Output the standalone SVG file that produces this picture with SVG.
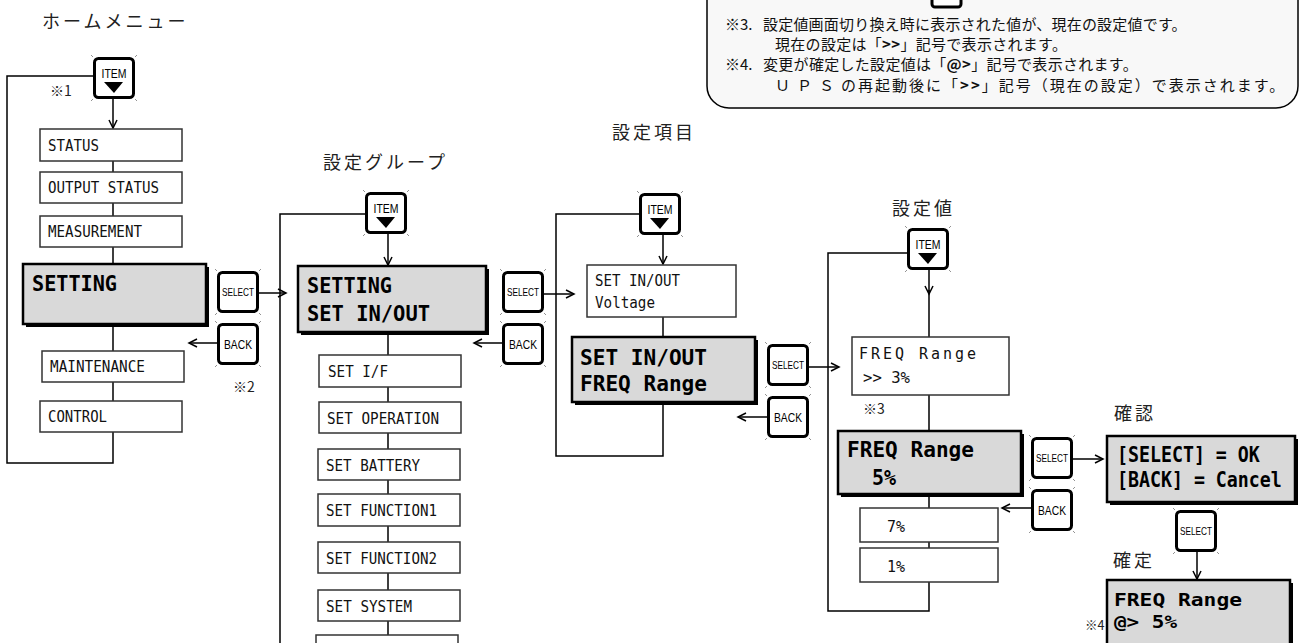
<svg xmlns="http://www.w3.org/2000/svg" xmlns:xlink="http://www.w3.org/1999/xlink" width="1301" height="643" viewBox="0 0 1301 643">
<style>
.box{fill:#fff;stroke:#333;stroke-width:1.5}
.gbox{fill:#d9d9d9;stroke:#000;stroke-width:2.5}
.shd{fill:#000}
.t{font-family:"DejaVu Sans Mono",monospace;font-size:16.5px;fill:#111}
.tb{font-family:"DejaVu Sans Mono",monospace;font-size:22px;font-weight:bold;fill:#000}
.jp{font-family:"Noto Sans CJK JP",sans-serif;font-size:18px;letter-spacing:3px;fill:#222}
.note{font-family:"Noto Sans CJK JP",sans-serif;font-size:15px;fill:#111}
.mk{font-family:"Noto Sans CJK JP",sans-serif;font-size:14px;fill:#222}
.conn{fill:none;stroke:#000;stroke-width:1.5}
.bt{font-family:"Liberation Sans",sans-serif;font-size:11px;text-anchor:middle;fill:#000}
</style>
<defs>
<marker id="arr" markerWidth="12" markerHeight="12" refX="9" refY="5" orient="auto" markerUnits="userSpaceOnUse"><path d="M1,1 L9,5 L1,9" fill="none" stroke="#000" stroke-width="1.5"/></marker>
<g id="btn"><rect x="1.5" y="1.5" width="39" height="39" rx="4" fill="#fff" stroke="#000" stroke-width="3"/><path d="M0,0 l-2,-2 M42,0 l2,-2 M0,42 l-2,2 M42,42 l2,2" stroke="#777" stroke-width="0.8"/></g>
<g id="itembtn"><use href="#btn"/><text class="bt" x="21" y="21" style="font-size:12px" textLength="25" lengthAdjust="spacingAndGlyphs">ITEM</text><polygon points="11,25 30,25 21,36" fill="#000"/></g>
<g id="selbtn"><use href="#btn"/><text class="bt" x="21" y="25" textLength="32" lengthAdjust="spacingAndGlyphs">SELECT</text></g>
<g id="backbtn"><use href="#btn"/><text class="bt" x="21" y="26" style="font-size:12px" textLength="28" lengthAdjust="spacingAndGlyphs">BACK</text></g>
</defs>
<rect width="1301" height="643" fill="#fff"/>

<g id="note">
<rect x="707" y="-40" width="591" height="148" rx="22" fill="#f8f8f8" stroke="#000" stroke-width="1.5"/>
<rect x="932" y="-30" width="29" height="37" rx="3" fill="#fff" stroke="#000" stroke-width="3"/>
<text class="note" x="725" y="30">※3.</text>
<text class="note" x="763" y="30" letter-spacing="0.2">設定値画面切り換え時に表示された値が、現在の設定値です。</text>
<text class="note" x="775" y="50" letter-spacing="0.3">現在の設定は「<tspan font-weight="bold">&gt;&gt;</tspan>」記号で表示されます。</text>
<text class="note" x="725" y="70">※4.</text>
<text class="note" x="763" y="70" letter-spacing="0.3">変更が確定した設定値は「<tspan font-weight="bold">@&gt;</tspan>」記号で表示されます。</text>
<text class="note" x="775" y="91" letter-spacing="2"><tspan letter-spacing="7">ＵＰＳ</tspan>の再起動後に「<tspan font-weight="bold">&gt;&gt;</tspan>」記号（現在の設定）で表示されます。</text>
</g>

<g id="labels">
<text class="jp" x="42" y="28">ホームメニュー</text>
<text class="jp" x="323" y="169">設定グループ</text>
<text class="jp" x="612" y="139">設定項目</text>
<text class="jp" x="892" y="215">設定値</text>
<text class="jp" x="1114" y="420">確認</text>
<text class="jp" x="1113" y="567">確定</text>
<text class="mk" x="50" y="96">※1</text>
<text class="mk" x="233" y="392">※2</text>
<text class="mk" x="863" y="414">※3</text>
<text class="mk" x="1085" y="630" style="font-size:12.5px">※4</text>
</g>

<g id="connectors">
<polyline class="conn" points="93,76 7,76 7,463 113,463 113,432"/>
<line class="conn" x1="113" y1="99" x2="113" y2="128" marker-end="url(#arr)"/>
<path class="conn" d="M113,161 V172 M113,203 V216 M113,247 V264 M113,327 V351 M113,382 V401"/>
<line class="conn" x1="259" y1="293" x2="286" y2="293" marker-end="url(#arr)"/>
<line class="conn" x1="217" y1="343" x2="189" y2="343" marker-end="url(#arr)"/>
<polyline class="conn" points="365,214 280,214 280,650"/>
<line class="conn" x1="388" y1="234" x2="388" y2="265" marker-end="url(#arr)"/>
<path class="conn" d="M388,335 V355 M388,387 V402 M388,433 V449 M388,480 V494 M388,526 V542 M388,573 V590 M388,621 V635"/>
<line class="conn" x1="543" y1="294" x2="574" y2="294" marker-end="url(#arr)"/>
<line class="conn" x1="502" y1="343" x2="474" y2="343" marker-end="url(#arr)"/>
<polyline class="conn" points="639,214 556,214 556,456 663,456 663,405"/>
<line class="conn" x1="663" y1="235" x2="663" y2="264" marker-end="url(#arr)"/>
<line class="conn" x1="663" y1="317" x2="663" y2="337"/>
<line class="conn" x1="808" y1="367" x2="839" y2="367" marker-end="url(#arr)"/>
<line class="conn" x1="767" y1="417" x2="738" y2="417" marker-end="url(#arr)"/>
<polyline class="conn" points="907,253 828,253 828,611 929,611 929,582"/>
<line class="conn" x1="929" y1="270" x2="929" y2="294" marker-end="url(#arr)"/>
<path class="conn" d="M929,290 V337 M929,395 V431 M929,497 V508 M929,542 V548"/>
<line class="conn" x1="1073" y1="459" x2="1103" y2="459" marker-end="url(#arr)"/>
<line class="conn" x1="1031" y1="508" x2="1002" y2="508" marker-end="url(#arr)"/>
<line class="conn" x1="1197" y1="552" x2="1197" y2="579" marker-end="url(#arr)"/>
</g>

<g id="item1"><use href="#itembtn" x="93" y="57"/></g>
<g id="status"><rect class="box" x="40" y="129" width="142" height="32"/><text class="t" x="48" y="151" textLength="51" lengthAdjust="spacingAndGlyphs">STATUS</text></g>
<g id="output-status"><rect class="box" x="40" y="172" width="142" height="31"/><text class="t" x="48" y="193" textLength="111" lengthAdjust="spacingAndGlyphs">OUTPUT STATUS</text></g>
<g id="measurement"><rect class="box" x="40" y="216" width="142" height="31"/><text class="t" x="48" y="237" textLength="94" lengthAdjust="spacingAndGlyphs">MEASUREMENT</text></g>
<g id="setting"><rect class="shd" x="26" y="267" width="183" height="60"/><rect class="gbox" x="23" y="264" width="183" height="60"/><text class="tb" x="32" y="291" textLength="85" lengthAdjust="spacingAndGlyphs">SETTING</text></g>
<g id="select1"><use href="#selbtn" x="217" y="271"/></g>
<g id="back1"><use href="#backbtn" x="217" y="323"/></g>
<g id="maintenance"><rect class="box" x="42" y="351" width="142" height="31"/><text class="t" x="50" y="372" textLength="95" lengthAdjust="spacingAndGlyphs">MAINTENANCE</text></g>
<g id="control"><rect class="box" x="40" y="401" width="142" height="31"/><text class="t" x="48" y="422" textLength="59" lengthAdjust="spacingAndGlyphs">CONTROL</text></g>

<g id="item2"><use href="#itembtn" x="365" y="192"/></g>
<g id="setting-setinout"><rect class="shd" x="301" y="269" width="188" height="66"/><rect class="gbox" x="298" y="266" width="188" height="66"/><text class="tb" x="307" y="293" textLength="85" lengthAdjust="spacingAndGlyphs">SETTING</text><text class="tb" x="307" y="321" textLength="123" lengthAdjust="spacingAndGlyphs">SET IN/OUT</text></g>
<g id="select2"><use href="#selbtn" x="502" y="271"/></g>
<g id="back2"><use href="#backbtn" x="502" y="323"/></g>
<g id="set-if"><rect class="box" x="319" y="355" width="142" height="32"/><text class="t" x="328" y="377" textLength="60" lengthAdjust="spacingAndGlyphs">SET I/F</text></g>
<g id="set-operation"><rect class="box" x="319" y="402" width="142" height="31"/><text class="t" x="327" y="424" textLength="112" lengthAdjust="spacingAndGlyphs">SET OPERATION</text></g>
<g id="set-battery"><rect class="box" x="318" y="449" width="142" height="31"/><text class="t" x="326" y="471" textLength="94" lengthAdjust="spacingAndGlyphs">SET BATTERY</text></g>
<g id="set-function1"><rect class="box" x="318" y="494" width="142" height="32"/><text class="t" x="326" y="516" textLength="111" lengthAdjust="spacingAndGlyphs">SET FUNCTION1</text></g>
<g id="set-function2"><rect class="box" x="318" y="542" width="142" height="31"/><text class="t" x="326" y="564" textLength="111" lengthAdjust="spacingAndGlyphs">SET FUNCTION2</text></g>
<g id="set-system"><rect class="box" x="318" y="590" width="142" height="31"/><text class="t" x="326" y="612" textLength="86" lengthAdjust="spacingAndGlyphs">SET SYSTEM</text></g>
<g id="next-item"><rect class="box" x="316" y="635" width="142" height="40"/></g>

<g id="item3"><use href="#itembtn" x="639" y="193"/></g>
<g id="setinout-voltage"><rect class="box" x="587" y="265" width="149" height="52"/><text class="t" x="595" y="286" textLength="85" lengthAdjust="spacingAndGlyphs">SET IN/OUT</text><text class="t" x="595" y="308" textLength="60" lengthAdjust="spacingAndGlyphs">Voltage</text></g>
<g id="setinout-freq"><rect class="shd" x="575" y="340" width="183" height="65"/><rect class="gbox" x="572" y="337" width="183" height="65"/><text class="tb" x="580" y="365" textLength="127" lengthAdjust="spacingAndGlyphs">SET IN/OUT</text><text class="tb" x="580" y="391" textLength="127" lengthAdjust="spacingAndGlyphs">FREQ Range</text></g>
<g id="select3"><use href="#selbtn" x="767" y="344"/></g>
<g id="back3"><use href="#backbtn" x="767" y="396"/></g>

<g id="item4"><use href="#itembtn" x="907" y="228"/></g>
<g id="freq-3"><rect class="box" x="852" y="337" width="157" height="58"/><text class="t" x="859" y="359" style="font-size:15px" textLength="117" lengthAdjust="spacing">FREQ Range</text><text class="t" x="863" y="383" textLength="47" lengthAdjust="spacingAndGlyphs">&gt;&gt; 3%</text></g>
<g id="freq-5"><rect class="shd" x="841" y="434" width="183" height="63"/><rect class="gbox" x="838" y="431" width="183" height="63"/><text class="tb" x="847" y="457" textLength="127" lengthAdjust="spacingAndGlyphs">FREQ Range</text><text class="tb" x="872" y="485" textLength="24" lengthAdjust="spacingAndGlyphs">5%</text></g>
<g id="freq-7"><rect class="box" x="860" y="508" width="138" height="34"/><text class="t" x="887" y="532" textLength="18" lengthAdjust="spacingAndGlyphs">7%</text></g>
<g id="freq-1"><rect class="box" x="860" y="548" width="138" height="34"/><text class="t" x="887" y="572" textLength="18" lengthAdjust="spacingAndGlyphs">1%</text></g>
<g id="select4"><use href="#selbtn" x="1031" y="437"/></g>
<g id="back4"><use href="#backbtn" x="1031" y="489"/></g>
<g id="confirm"><rect class="shd" x="1110" y="439" width="188" height="66"/><rect class="gbox" x="1107" y="436" width="188" height="66"/><text class="tb" transform="translate(1117,462) scale(0.83,1)" x="0" y="0">[SELECT] = OK</text><text class="tb" transform="translate(1117,487) scale(0.83,1)" x="0" y="0">[BACK] = Cancel</text></g>
<g id="select5"><use href="#selbtn" x="1175" y="510"/></g>
<g id="fixed"><rect class="shd" x="1110" y="583" width="183" height="80"/><rect class="gbox" x="1107" y="580" width="183" height="80"/><text class="tb" x="1114" y="606" style="font-size:18px" textLength="128" lengthAdjust="spacingAndGlyphs">FREQ Range</text><text class="tb" x="1114" y="628" style="font-size:18px" textLength="63" lengthAdjust="spacingAndGlyphs">@&gt; 5%</text></g>
</svg>
